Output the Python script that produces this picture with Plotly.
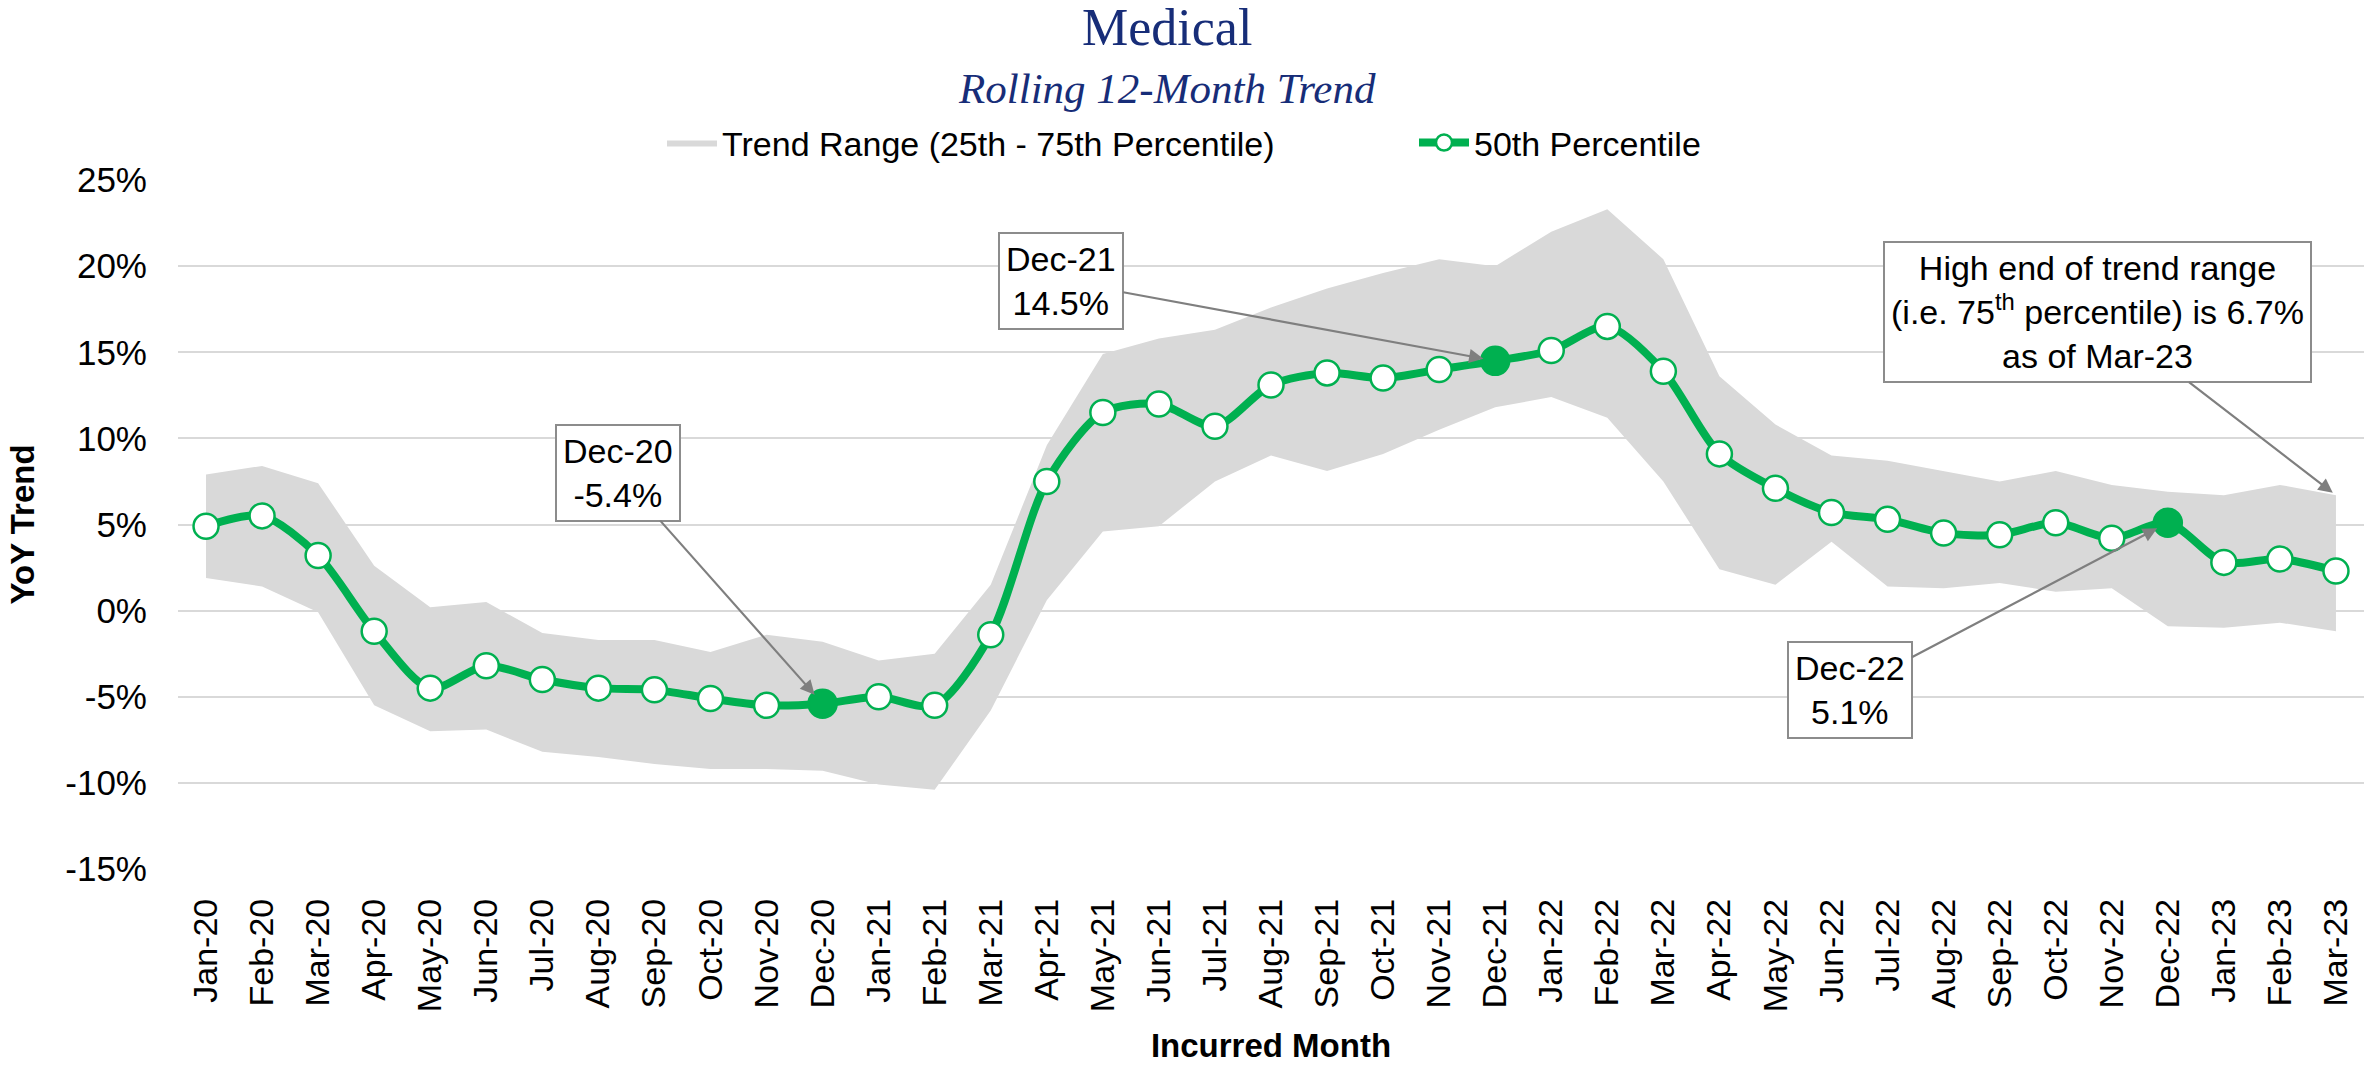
import plotly.graph_objects as go

MONTHS = ["Jan-20", "Feb-20", "Mar-20", "Apr-20", "May-20", "Jun-20", "Jul-20", "Aug-20",
          "Sep-20", "Oct-20", "Nov-20", "Dec-20", "Jan-21", "Feb-21", "Mar-21", "Apr-21",
          "May-21", "Jun-21", "Jul-21", "Aug-21", "Sep-21", "Oct-21", "Nov-21", "Dec-21",
          "Jan-22", "Feb-22", "Mar-22", "Apr-22", "May-22", "Jun-22", "Jul-22", "Aug-22",
          "Sep-22", "Oct-22", "Nov-22", "Dec-22", "Jan-23", "Feb-23", "Mar-23"]

MEDIAN = [4.9, 5.5, 3.2, -1.2, -4.5, -3.2, -4.0, -4.5, -4.6, -5.1, -5.5, -5.4, -5.0,
          -5.5, -1.4, 7.5, 11.5, 12.0, 10.7, 13.1, 13.8, 13.5, 14.0, 14.5, 15.1, 16.5,
          13.9, 9.1, 7.1, 5.7, 5.3, 4.5, 4.4, 5.1, 4.2, 5.1, 2.8, 3.0, 2.3]

UPPER = [7.9, 8.4, 7.4, 2.6, 0.2, 0.5, -1.3, -1.7, -1.7, -2.4, -1.4, -1.8, -2.9, -2.5,
         1.5, 9.6, 14.9, 15.8, 16.3, 17.6, 18.7, 19.6, 20.4, 20.0, 22.0, 23.3, 20.4,
         13.6, 10.8, 9.0, 8.7, 8.1, 7.5, 8.1, 7.3, 6.9, 6.7, 7.3, 6.7]

LOWER = [1.9, 1.4, -0.1, -5.5, -7.0, -6.9, -8.2, -8.5, -8.9, -9.2, -9.2, -9.3, -10.1,
         -10.4, -5.8, 0.6, 4.6, 4.9, 7.5, 9.0, 8.1, 9.1, 10.5, 11.8, 12.4, 11.2, 7.5,
         2.4, 1.5, 4.0, 1.4, 1.3, 1.6, 1.1, 1.3, -0.9, -1.0, -0.7, -1.2]

HIGHLIGHT = ["Dec-20", "Dec-21", "Dec-22"]

Y_TICKS = [-15, -10, -5, 0, 5, 10, 15, 20, 25]
Y_TICK_TEXT = ["-15%", "-10%", "-5%", "0%", "5%", "10%", "15%", "20%", "25%"]

GREEN = "#00B050"
BAND = "#D9D9D9"
NAVY = "#172D78"
FONT = "Liberation Sans, Arial, sans-serif"
SERIF = "Liberation Serif, Times New Roman, serif"

W, H = 2369, 1066
L, R, T, B = 178, 5, 180, 197

fig = go.Figure()

fig.add_trace(go.Scatter(
    x=MONTHS, y=LOWER, mode="lines", line=dict(width=0, color=BAND),
    showlegend=False, hoverinfo="skip"))
fig.add_trace(go.Scatter(
    x=MONTHS, y=UPPER, mode="lines", line=dict(width=0, color=BAND),
    fill="tonexty", fillcolor=BAND,
    name="Trend Range (25th - 75th Percentile)"))

marker_colors = [GREEN if m in HIGHLIGHT else "white" for m in MONTHS]
marker_sizes = [28 if m in HIGHLIGHT else 25 for m in MONTHS]
fig.add_trace(go.Scatter(
    x=MONTHS, y=MEDIAN, mode="lines+markers", name="50th Percentile",
    line=dict(color=GREEN, width=8, shape="spline", smoothing=0.8),
    marker=dict(color=marker_colors, size=marker_sizes, opacity=1,
                line=dict(color=GREEN, width=2.5))))

box = dict(bordercolor="#8C8C8C", borderwidth=2, bgcolor="white", borderpad=6,
           font=dict(family=FONT, size=34, color="black"), align="center",
           showarrow=True, arrowhead=2, arrowsize=1.3, arrowwidth=2.2,
           arrowcolor="#7F7F7F", xref="x", yref="y")

annotations = [
    dict(x="Dec-20", y=MEDIAN[MONTHS.index("Dec-20")], text="Dec-20<br>-5.4%",
         ax=-205, ay=-231, standoff=12, **box),
    dict(x="Dec-21", y=MEDIAN[MONTHS.index("Dec-21")], text="Dec-21<br>14.5%",
         ax=-434, ay=-80, standoff=12, **box),
    dict(x="Dec-22", y=MEDIAN[MONTHS.index("Dec-22")], text="Dec-22<br>5.1%",
         ax=-318, ay=167, standoff=12, **box),
    dict(x="Mar-23", y=UPPER[MONTHS.index("Mar-23")],
         text="High end of trend range<br>(i.e. 75<sup>th</sup> percentile) is 6.7%<br>as of Mar-23",
         ax=-238, ay=-183, standoff=4, **box),
    dict(x=1167 / W, y=1 - 28 / H, xref="paper", yref="paper", showarrow=False,
         text="Medical", font=dict(family=SERIF, size=52, color=NAVY),
         xanchor="center", yanchor="middle"),
    dict(x=1167 / W, y=1 - 88 / H, xref="paper", yref="paper", showarrow=False,
         text="<i>Rolling 12-Month Trend</i>", font=dict(family=SERIF, size=43, color=NAVY),
         xanchor="center", yanchor="middle"),
]
# convert title annotations from container fraction to plot-paper coordinates
for a in annotations[-2:]:
    px = a["x"] * W
    py = (1 - a["y"]) * H
    a["x"] = (px - L) / (W - L - R)
    a["y"] = (H - B - py) / (H - T - B)

fig.update_layout(
    width=W, height=H,
    margin=dict(l=L, r=R, t=T, b=B, pad=0),
    paper_bgcolor="white", plot_bgcolor="white",
    font=dict(family=FONT, size=34, color="black"),
    showlegend=True,
    legend=dict(orientation="h", x=(662 - L) / (W - L - R), xanchor="left",
                y=(H - B - 143) / (H - T - B), yanchor="middle",
                font=dict(family=FONT, size=34, color="black"),
                bgcolor="rgba(0,0,0,0)", itemwidth=50, traceorder="normal",
                entrywidth=687, entrywidthmode="pixels"),
    annotations=annotations,
    hovermode=False,
)

fig.update_xaxes(
    type="category", categoryorder="array", categoryarray=MONTHS,
    range=[-0.5, len(MONTHS) - 0.5], tickangle=-90, showgrid=False,
    showline=False, zeroline=False, ticks="", ticklabelstandoff=22,
    tickfont=dict(family=FONT, size=34, color="black"),
    title=dict(text="<b>Incurred Month</b>", standoff=22,
               font=dict(family=FONT, size=33, color="black")),
)
fig.update_yaxes(
    range=[-15, 25], tickvals=Y_TICKS, ticktext=Y_TICK_TEXT,
    showgrid=True, gridcolor="#D9D9D9", gridwidth=2, zeroline=False,
    showline=False, ticks="", ticklabelstandoff=30,
    tickfont=dict(family=FONT, size=35, color="black"),
    title=dict(text="<b>YoY Trend</b>", standoff=20,
               font=dict(family=FONT, size=33, color="black")),
)

fig.write_html("out.html", config={"displayModeBar": False},
               post_script="document.body.style.margin='0';")
